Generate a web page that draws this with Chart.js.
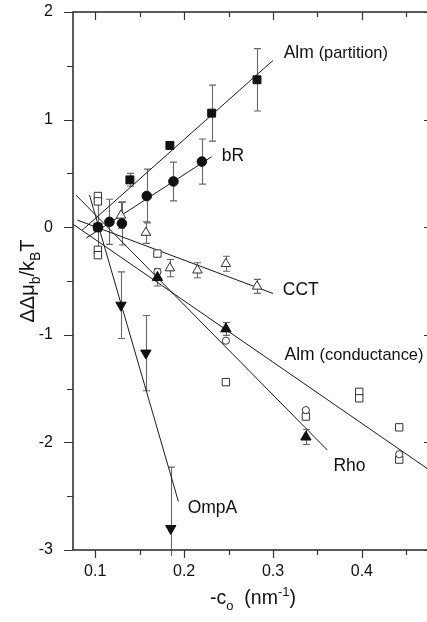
<!DOCTYPE html>
<html>
<head>
<meta charset="utf-8">
<script src="https://cdn.jsdelivr.net/npm/chart.js@4.4.1/dist/chart.umd.min.js"></script>
<style>
  html, body { margin: 0; padding: 0; background: #fff; overflow: hidden; }
  #wrap { width: 427px; height: 622px; overflow: hidden; }
  #curvChart { display: block; }
</style>
</head>
<body>
<div id="wrap"><canvas id="curvChart" width="440" height="622"></canvas></div>
<script>
// Alm (partition), filled squares
var almPartX = [0.103, 0.139, 0.184, 0.231, 0.282];
var almPartY = [0.0, 0.44, 0.76, 1.06, 1.37];
var almPartErr = [0, 0.06, 0.03, 0.26, 0.29];

// bR, filled circles
var bRX = [0.103, 0.116, 0.130, 0.158, 0.188, 0.220];
var bRY = [0.0, 0.05, 0.035, 0.29, 0.425, 0.61];
var bRErr = [0.22, 0.21, 0.2, 0.25, 0.18, 0.21];

// CCT, open triangles
var cctX = [0.129, 0.157, 0.184, 0.215, 0.247, 0.282];
var cctY = [0.11, -0.05, -0.38, -0.40, -0.34, -0.55];
var cctErr = [0.12, 0.1, 0.08, 0.07, 0.07, 0.065];

// Alm (conductance), open squares
var almCondX = [0.103, 0.103, 0.103, 0.103, 0.170, 0.247, 0.337, 0.397, 0.397, 0.442, 0.442];
var almCondY = [0.29, 0.24, -0.21, -0.26, -0.245, -1.44, -1.76, -1.53, -1.59, -1.86, -2.16];

// open circles
var openCircX = [0.170, 0.247, 0.337, 0.442];
var openCircY = [-0.415, -1.055, -1.70, -2.11];

// Rho, filled up triangles
var rhoX = [0.170, 0.247, 0.337];
var rhoY = [-0.467, -0.945, -1.95];
var rhoErr = [0.08, 0.06, 0.07];

// OmpA, filled down triangles
var ompAX = [0.129, 0.157, 0.185];
var ompAY = [-0.725, -1.17, -2.80];
var ompAErr = [0.31, 0.35, 0.57];

// linear fits, end points
var almPartFitX = [0.085, 0.300], almPartFitY = [-0.03, 1.55];
var bRFitX = [0.090, 0.231], bRFitY = [-0.10, 0.655];
var cctFitX = [0.080, 0.300], cctFitY = [0.066, -0.616];
var almCondFitX = [0.075, 0.480], almCondFitY = [0.028, -2.28];
var rhoFitX = [0.0785, 0.361], rhoFitY = [0.297, -2.07];
var ompAFitX = [0.0935, 0.1936], ompAFitY = [0.30, -2.55];

// axis ticks
var xTickMajor = [0.1, 0.2, 0.3, 0.4];
var xTickMinor = [0.15, 0.25, 0.35, 0.45];
var yTickMajor = [-3, -2, -1, 0, 1, 2];
var yTickMinor = [-2.5, -1.5, -0.5, 0.5, 1.5];

// curve labels: name, qualifier, anchor (data units)
var curveNames = ['Alm', 'bR', 'CCT', 'Alm', 'Rho', 'OmpA'];
var curveNotes = ['(partition)', '', '', '(conductance)', '', ''];
var curveLabelX = [0.312, 0.2424, 0.311, 0.313, 0.368, 0.204];
var curveLabelY = [1.617, 0.66, -0.585, -1.19, -2.22, -2.61];

var FONT = '"Liberation Sans", Arial, Helvetica, sans-serif';
var INK = '#111';

function pts(xs, ys) {
    return xs.map(function (x, i) { return { x: x, y: ys[i] }; });
}

function markers(xs, ys, style, radius, filled, extra) {
    var ds = {
        type: 'scatter',
        data: pts(xs, ys),
        showLine: false,
        pointStyle: style,
        pointRadius: radius,
        pointBorderWidth: 1,
        pointBorderColor: filled ? INK : '#333',
        pointBackgroundColor: filled ? INK : '#fff'
    };
    return Object.assign(ds, extra || {});
}

function fit(xs, ys) {
    return {
        type: 'line',
        data: pts(xs, ys),
        borderColor: '#1a1a1a',
        borderWidth: 1,
        pointRadius: 0,
        fill: false,
        tension: 0
    };
}

// error bars, frame, ticks, curve labels and axis titles
var decorations = {
    id: 'decorations',
    beforeDatasetsDraw: function (chart) {
        var ctx = chart.ctx, xs = chart.scales.x, ys = chart.scales.y, a = chart.chartArea;
        ctx.save();
        ctx.beginPath();
        ctx.rect(a.left, a.top, a.right - a.left, a.bottom - a.top + 6);
        ctx.clip();
        ctx.strokeStyle = '#666';
        ctx.lineWidth = 1.1;
        chart.data.datasets.forEach(function (ds) {
            if (!ds.errors) return;
            ds.data.forEach(function (p, i) {
                var e = ds.errors[i];
                if (!e) return;
                var px = Math.round(xs.getPixelForValue(p.x)) + 0.5;
                var y1 = ys.getPixelForValue(p.y + e);
                var y2 = ys.getPixelForValue(p.y - e);
                ctx.beginPath();
                ctx.moveTo(px, y1); ctx.lineTo(px, y2);
                ctx.moveTo(px - 3.5, y1); ctx.lineTo(px + 3.5, y1);
                ctx.moveTo(px - 3.5, y2); ctx.lineTo(px + 3.5, y2);
                ctx.stroke();
            });
        });
        ctx.restore();
    },
    afterDraw: function (chart) {
        var ctx = chart.ctx, xs = chart.scales.x, ys = chart.scales.y, a = chart.chartArea;
        ctx.save();
        ctx.strokeStyle = '#333';
        ctx.lineWidth = 1.6;
        ctx.strokeRect(a.left, a.top, a.right - a.left, a.bottom - a.top);

        ctx.lineWidth = 1.2;
        ctx.beginPath();
        function xTick(v, len) {
            var px = Math.round(xs.getPixelForValue(v)) + 0.5;
            ctx.moveTo(px, a.bottom); ctx.lineTo(px, a.bottom + len);
            ctx.moveTo(px, a.top); ctx.lineTo(px, a.top + len);
        }
        function yTick(v, len) {
            var py = Math.round(ys.getPixelForValue(v)) + 0.5;
            ctx.moveTo(a.left, py); ctx.lineTo(a.left - len, py);
            ctx.moveTo(a.right, py); ctx.lineTo(a.right - len, py);
        }
        xTickMajor.forEach(function (v) { xTick(v, 8); });
        xTickMinor.forEach(function (v) { xTick(v, 5); });
        yTickMajor.forEach(function (v) { yTick(v, 9); });
        yTickMinor.forEach(function (v) { yTick(v, 6); });
        ctx.stroke();

        // curve labels
        ctx.fillStyle = INK;
        ctx.textBaseline = 'middle';
        ctx.textAlign = 'left';
        curveNames.forEach(function (name, i) {
            var px = xs.getPixelForValue(curveLabelX[i]);
            var py = ys.getPixelForValue(curveLabelY[i]);
            ctx.font = '17.5px ' + FONT;
            ctx.fillText(name, px, py);
            if (curveNotes[i]) {
                var w = ctx.measureText(name + ' ').width;
                ctx.font = '16.4px ' + FONT;
                ctx.fillText(curveNotes[i], px + w, py + 0.5);
            }
        });

        // axis titles with sub/superscripts
        function runs(parts) {
            var total = 0;
            parts.forEach(function (p) {
                ctx.font = p.size + 'px ' + FONT;
                p.w = ctx.measureText(p.t).width;
                total += p.w;
            });
            return total;
        }
        function drawRuns(parts, x0, base) {
            var x = x0;
            parts.forEach(function (p) {
                ctx.font = p.size + 'px ' + FONT;
                ctx.fillText(p.t, x, base + (p.dy || 0));
                x += p.w;
            });
        }
        ctx.textBaseline = 'alphabetic';
        var xTitle = [
            { t: '-c', size: 19.5 },
            { t: 'o', size: 13, dy: 6 },
            { t: '  (nm', size: 19.5 },
            { t: '-1', size: 13, dy: -8 },
            { t: ')', size: 19.5 }
        ];
        var wx = runs(xTitle);
        drawRuns(xTitle, (a.left + a.right) / 2 - wx / 2, 604);

        var yTitle = [
            { t: '\u0394\u0394\u03bc', size: 20 },
            { t: 'b', size: 14, dy: 6 },
            { t: '/k', size: 20 },
            { t: 'B', size: 14, dy: 6 },
            { t: 'T', size: 20 }
        ];
        var wy = runs(yTitle);
        ctx.translate(34, (a.top + a.bottom) / 2);
        ctx.rotate(-Math.PI / 2);
        drawRuns(yTitle, -wy / 2, 0);
        ctx.restore();
    }
};

var tickFont = { family: FONT, size: 16 };

new Chart(document.getElementById('curvChart').getContext('2d'), {
    data: {
        datasets: [
            markers(bRX, bRY, 'circle', 4.8, true, { errors: bRErr }),
            markers(almPartX, almPartY, 'rect', 5.6, true, { errors: almPartErr }),
            markers(rhoX, rhoY, 'triangle', 6, true, { errors: rhoErr }),
            markers(ompAX, ompAY, 'triangle', 6, true, { errors: ompAErr, rotation: 180 }),
            markers(cctX, cctY, 'triangle', 5.5, false, { errors: cctErr }),
            markers(openCircX, openCircY, 'circle', 3.6, false),
            markers(almCondX, almCondY, 'rect', 5.2, false),
            fit(almPartFitX, almPartFitY),
            fit(bRFitX, bRFitY),
            fit(cctFitX, cctFitY),
            fit(almCondFitX, almCondFitY),
            fit(rhoFitX, rhoFitY),
            fit(ompAFitX, ompAFitY)
        ]
    },
    options: {
        responsive: false,
        animation: false,
        // the canvas is wider than its box, so the right edge of the frame is cut off
        layout: { padding: { top: 12, right: 7, left: 0, bottom: 0 } },
        plugins: { legend: { display: false }, tooltip: { enabled: false } },
        scales: {
            x: {
                type: 'linear',
                min: 0.075,
                max: 0.48,
                afterFit: function (s) { s.height = 72; s.paddingLeft = 0; s.paddingRight = 0; },
                grid: { display: false, drawTicks: false },
                border: { display: false },
                ticks: {
                    stepSize: 0.1,
                    includeBounds: false,
                    autoSkip: false,
                    maxRotation: 0,
                    padding: 12,
                    color: INK,
                    font: tickFont,
                    callback: function (v) { return Number(v).toFixed(1); }
                }
            },
            y: {
                type: 'linear',
                min: -3,
                max: 2,
                afterFit: function (s) { s.width = 73; s.paddingTop = 0; s.paddingBottom = 0; },
                grid: { display: false, drawTicks: false },
                border: { display: false },
                ticks: {
                    stepSize: 1,
                    padding: 20,
                    color: INK,
                    font: tickFont
                }
            }
        }
    },
    plugins: [decorations]
});
</script>
</body>
</html>
